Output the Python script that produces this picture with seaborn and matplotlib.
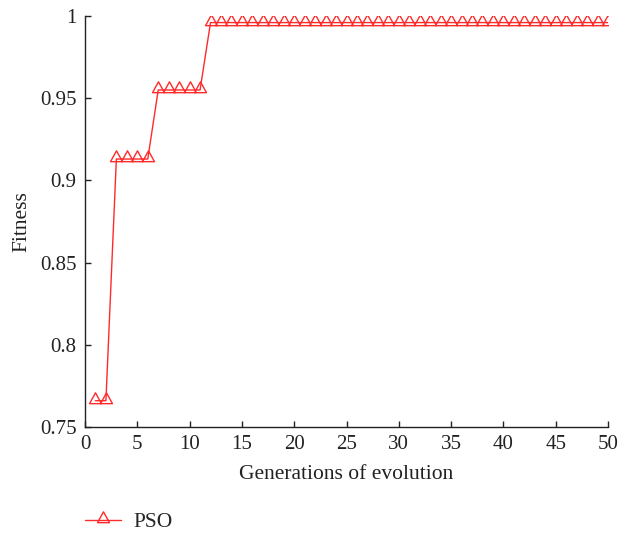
import numpy as np
import pandas as pd
import matplotlib
matplotlib.use("Agg")
import matplotlib.pyplot as plt
from matplotlib.path import Path
from matplotlib.ticker import FuncFormatter
import seaborn as sns

generations = list(range(1, 51))
fitness = [0.766] * 2 + [0.913] * 4 + [0.955] * 5 + [0.996] * 39
x_ticks = [0, 5, 10, 15, 20, 25, 30, 35, 40, 45, 50]
y_ticks = [0.75, 0.8, 0.85, 0.9, 0.95, 1.0]

sns.set_style("white")
plt.rcParams['font.family'] = ['Liberation Serif', 'DejaVu Serif']

df = pd.DataFrame({"Generation": generations, "Fitness": fitness, "Method": "PSO"})

fig = plt.figure(figsize=(6.19, 5.39), dpi=100)
ax = fig.add_axes([85 / 619, 1 - 427 / 539, 523 / 619, 411 / 539])

tri = Path([(-0.55, -0.2), (0.55, -0.2), (0.0, 0.8), (-0.55, -0.2)],
           [Path.MOVETO, Path.LINETO, Path.LINETO, Path.CLOSEPOLY])

red = "#ff2a2a"
sns.lineplot(data=df, x="Generation", y="Fitness", ax=ax, color=red, lw=1.0,
             marker=tri, markersize=12.5, markerfacecolor="none",
             markeredgecolor=red, markeredgewidth=1.0, label="PSO", legend=False)

ax.set_xlim(0, 50)
ax.set_ylim(0.75, 1.0)
ax.set_xticks(x_ticks)
ax.set_yticks(y_ticks)
ax.yaxis.set_major_formatter(FuncFormatter(lambda v, p: ("%g" % round(v, 4))))
ax.tick_params(bottom=True, left=True, direction="in", length=4, width=1,
               labelsize=15, colors="#222222", pad=6)
for s in ["top", "right"]:
    ax.spines[s].set_visible(False)
for s in ["left", "bottom"]:
    ax.spines[s].set_color("#222222")
    ax.spines[s].set_linewidth(1.0)
ax.set_xlabel("Generations of evolution", fontsize=15.5, color="#222222", labelpad=8)
ax.set_ylabel("Fitness", fontsize=15.5, color="#222222", labelpad=6)

h, l = ax.get_legend_handles_labels()
fig.legend(h, l, loc="center left", bbox_to_anchor=(66 / 619, 1 - 522 / 539),
           frameon=False, fontsize=15.5, handlelength=1.65, handletextpad=0.6)

fig.savefig("out.png", dpi=100)
